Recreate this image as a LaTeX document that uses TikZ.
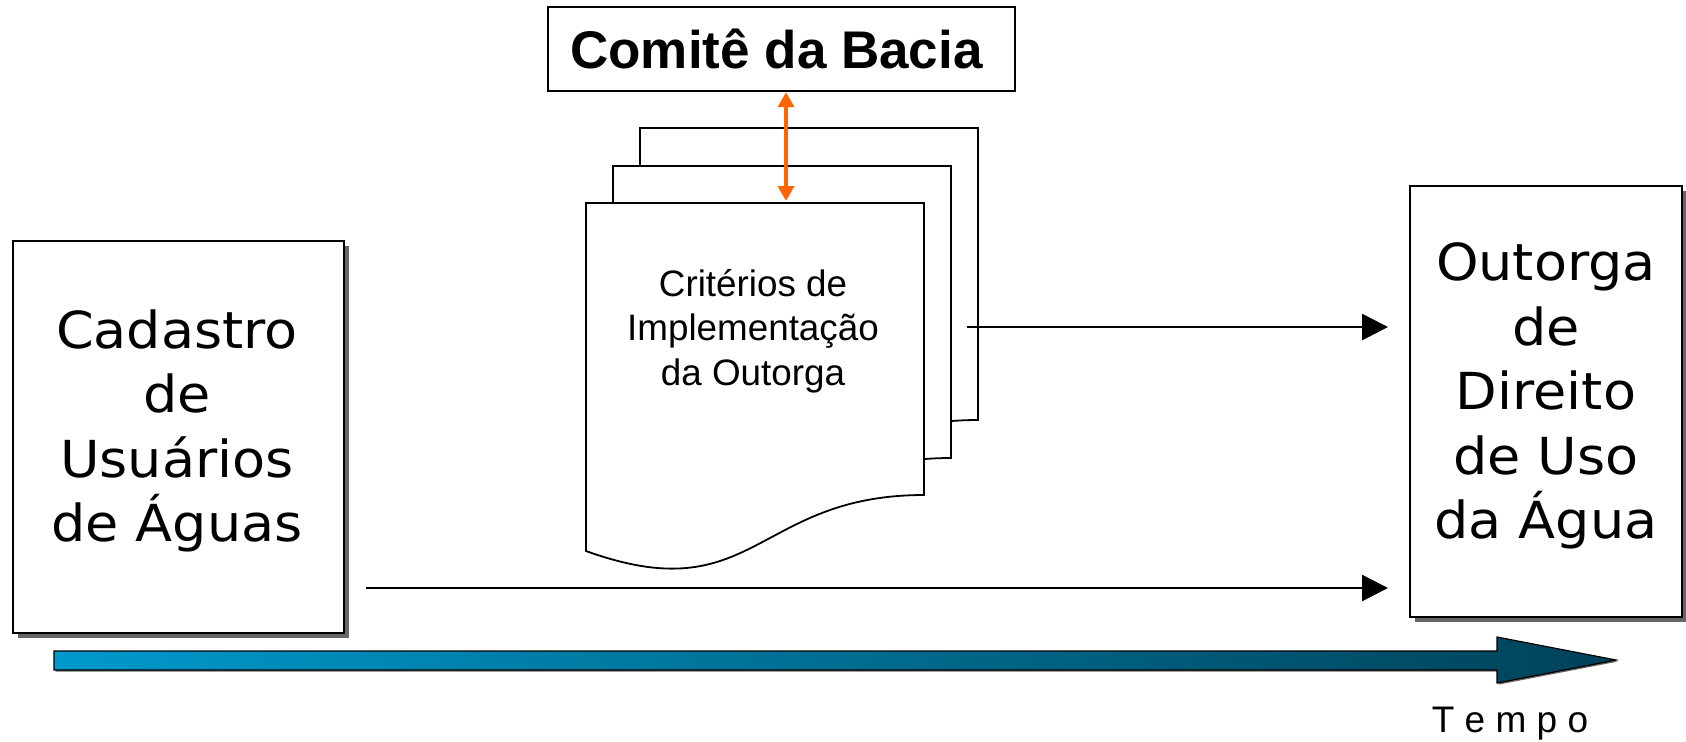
\documentclass[tikz,border=0pt]{standalone}
\usepackage{fontspec}
\setsansfont{Liberation Sans}
\newfontfamily\boxfont[FakeStretch=1.06]{DejaVu Sans}
\usetikzlibrary{
  positioning,
  calc,
  shadows,
  arrows.meta}
\tikzset{
  docpage/.pic = {
    \filldraw [fill=white, line width=0.9pt]
      (0, 0) -- (338, 0) -- (338, 292)
      .. controls (169, 292) and (169, 409) .. (0, 348) -- cycle;
  }
}
\definecolor{comitecolor}{RGB}{255,102,0}
\definecolor{timestart}{RGB}{0,153,204}
\definecolor{timeend}{RGB}{0,66,88}
\definecolor{shadowcolor}{RGB}{102,102,102}
\tikzset{
  %% bigbox : start and end of the process
  bigbox/.style={
    rectangle,
    draw=black,
    fill=white,
    line width=1pt,
    inner sep=0pt,
    drop shadow={shadow xshift=2.5pt, shadow yshift=-2.5pt,
      fill=shadowcolor, opacity=1},
    align=center,
    font=\boxfont\fontsize{25.5}{32.2}\selectfont
  },
  %% comite : the committee on top
  comite/.style={
    rectangle,
    draw=black,
    fill=white,
    line width=1.2pt,
    minimum width=233.5pt,
    minimum height=42pt,
    inner sep=0pt,
    font=\sffamily\bfseries\fontsize{26.5}{30}\selectfont
  },
  %% doctext : text on the front page
  doctext/.style={
    align=center,
    font=\sffamily\fontsize{18.4}{22.3}\selectfont
  },
  %% flow : black connector
  flow/.style={
    line width=1.4pt,
    -{Triangle[length=13pt, width=13pt]}
  },
  %% bothway : orange double arrow
  bothway/.style={
    comitecolor,
    line width=2pt,
    {Triangle[length=7.5pt, width=8pt]}-{Triangle[length=7.5pt, width=8pt]}
  },
  %% timebar : the time axis
  timebar/.style={
    draw=black,
    line width=0.6pt,
    left color=timestart,
    right color=timeend,
    drop shadow={shadow xshift=0.8pt, shadow yshift=-0.8pt,
      fill=shadowcolor, opacity=1}
  }
}

\begin{document}
\begin{tikzpicture}
  [x=0.5pt,
  y=-0.5pt]
  \sffamily

  \useasboundingbox (0, 0) rectangle (1686, 741);

  %% Boxes
  \node (cadastro) [bigbox, minimum width=165.5pt, minimum height=196pt]
  at (178.5, 437) {};
  \node (cadastrotext) [font=\boxfont\fontsize{25.5}{32.2}\selectfont, align=center]
  at (177, 431) {%
    Cadastro\\ de\\ Usuários\\ de Águas};

  \node (outorga) [bigbox, minimum width=136pt, minimum height=215.5pt]
  at (1546, 401.5) {};
  \node (outorgatext) [font=\boxfont\fontsize{25.5}{32.2}\selectfont, align=center]
  at (1546, 396) {%
    Outorga\\ de\\ Direito\\ de Uso\\ da Água};

  \node (comite) [comite] at (781.5, 49) {Comitê da Bacia\hspace*{5pt}};

  %% Stack of pages
  \pic (back) at (640, 128) {docpage};
  \pic (middle) at (613, 166) {docpage};
  \pic (front) at (586, 203) {docpage};

  \node (criterios) [doctext] at (753, 331) {%
    Critérios de\\
    Implementação\\
    da Outorga};

  %% Connections
  \coordinate (fronttop) at (786, 201);
  \coordinate (stackout) at (967, 327);
  \coordinate (cadout) at (366, 588);

  \draw [bothway] (comite.south -| fronttop) -- (fronttop);
  \draw [flow] (stackout) -- ([xshift=-10.5pt]outorga.west |- stackout);
  \draw [flow] (cadout) -- ([xshift=-10.5pt]outorga.west |- cadout);

  %% Time axis
  \path [timebar] (54, 651) -- (1497, 651) -- (1497, 637) -- (1616, 660)
  -- (1497, 683) -- (1497, 670) -- (54, 670) -- cycle;
  \node (tempo) [anchor=base, font=\sffamily\fontsize{18.5}{22}\selectfont]
  at (1510, 732) {T e m p o};

\end{tikzpicture}
\end{document}
